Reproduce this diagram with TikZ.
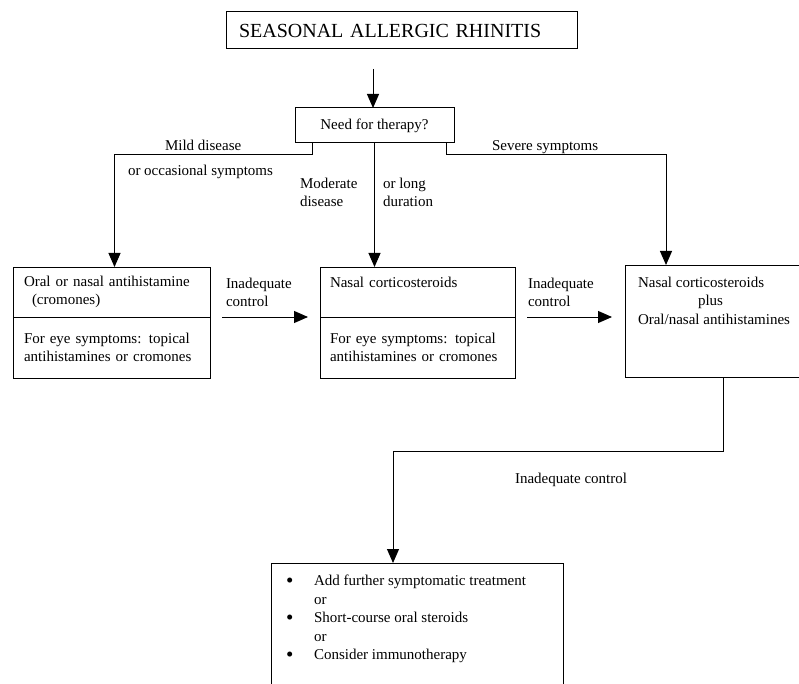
\documentclass[tikz,border=0pt]{standalone}
\usepackage{fontspec}
\usepackage{graphicx}
\setmainfont{Liberation Serif}
\usetikzlibrary{arrows.meta,positioning}

\newcommand{\bigbullet}{\makebox[28pt][l]{\raisebox{-2pt}{\scalebox{1.4}{\textbullet}}}}

\begin{document}
\begin{tikzpicture}[x=1pt,y=-1pt,->,>={Triangle[length=14pt,width=12pt]},line width=1pt,
    font=\fontsize{15}{18.5}\selectfont,
    box/.style={draw,rectangle,anchor=north west,align=left,inner sep=0pt,outer sep=0pt},
    txt/.style={inner sep=0pt,outer sep=0pt,align=left}]
    \useasboundingbox (0,0) rectangle (799,684);
    \clip (0,0) rectangle (799,684);

    \node[box,minimum width=351pt,minimum height=37pt,text width=325pt,inner xsep=13pt,
        font=\fontsize{20}{24}\selectfont] (title) at (226,12) {SEASONAL ALLERGIC RHINITIS};
    \coordinate (entry) at (373,69);
    \node[box,align=center,minimum width=159pt,minimum height=35pt] (need) at (295,108) {Need for therapy?};

    \node[box,minimum width=197pt,minimum height=50pt,text width=175pt,inner xsep=11pt] (oral) at (13,267)
        {Oral or nasal antihistamine\\\hspace*{8pt}(cromones)};
    \node[box,minimum width=197pt,minimum height=61pt,text width=175pt,inner xsep=11pt] (oraleye) at (13,317)
        {For eye symptoms: topical\\antihistamines or cromones};
    \node[box,minimum width=195pt,minimum height=50pt,text width=175pt,inner xsep=10pt] (nasal) at (320,267)
        {Nasal corticosteroids\\\mbox{}};
    \node[box,minimum width=195pt,minimum height=61pt,text width=175pt,inner xsep=10pt] (nasaleye) at (320,317)
        {For eye symptoms: topical\\antihistamines or cromones};
    \node[box,minimum width=190pt,minimum height=112pt] (combo) at (625,265) {};
    \node[txt,anchor=north west] (combotext) at (638,277)
        {Nasal corticosteroids\\\hspace*{60pt}plus\\Oral/nasal antihistamines};
    \node[box,minimum width=292pt,minimum height=140pt] (further) at (271,563) {};
    \node[txt,anchor=north west] (furthertext) at (286,575)
        {\bigbullet Add further symptomatic treatment\\
         \hspace*{28pt}or\\
         \bigbullet Short-course oral steroids\\
         \hspace*{28pt}or\\
         \bigbullet Consider immunotherapy};

    % branch labels
    \node[txt,anchor=base west] (mild) at (165,151) {Mild disease};
    \node[txt,anchor=base west] (occasional) at (128,176) {or occasional symptoms};
    \node[txt,anchor=north west] (moderate) at (300,178) {Moderate\\disease};
    \node[txt,anchor=north west] (long) at (383,178) {or long\\duration};
    \node[txt,anchor=base west] (severe) at (492,151) {Severe symptoms};
    \node[txt,anchor=north west] (inadeq1) at (226,278) {Inadequate\\control};
    \node[txt,anchor=north west] (inadeq2) at (528,278) {Inadequate\\control};
    \node[txt,anchor=base west] (inadeq3) at (515,483) {Inadequate control};

    \draw (entry) -- (entry |- need.north);
    \draw ([xshift=17pt]need.south west) -- ++(0,12) -| ([xshift=3pt]oral.north);
    \draw (need.south) -- (need.south |- nasal.north);
    \draw ([xshift=-8pt]need.south east) -- ++(0,12) -| ([xshift=41pt]combo.north west);
    \draw ([xshift=12pt]oral.south east) -- ([xshift=-12pt]nasal.south west);
    \draw ([xshift=12pt]nasal.south east) -- ([xshift=-13pt]nasal.south east -| combo.west);
    \draw ([xshift=98pt]combo.south west) -- ++(0,74) -| ([xshift=-24pt]further.north);
\end{tikzpicture}
\end{document}
